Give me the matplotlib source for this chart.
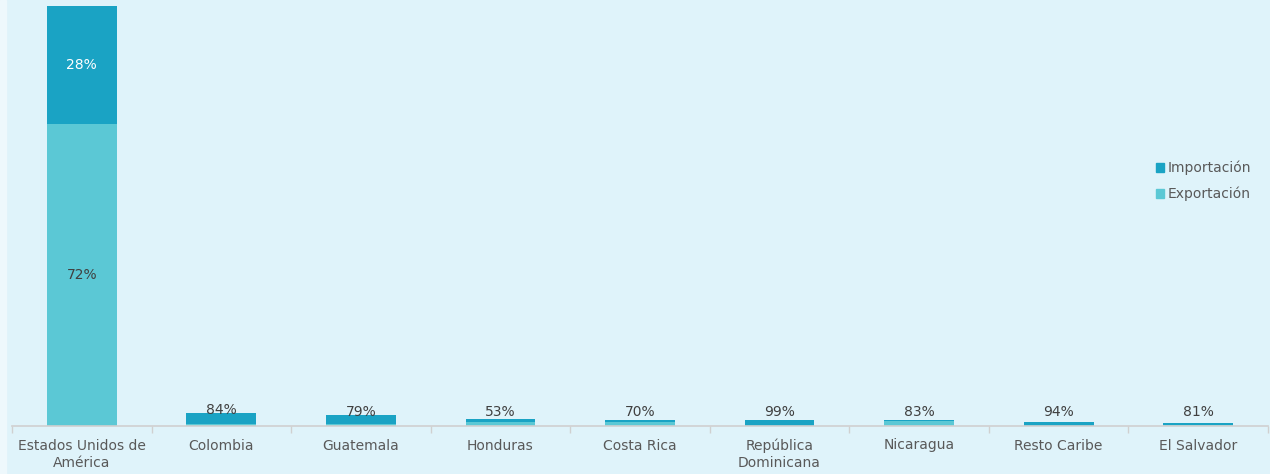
import matplotlib
matplotlib.use("Agg")
from matplotlib import pyplot as plt
from matplotlib.patches import Patch, Rectangle

plt.rcParams["font.family"] = ["DejaVu Sans"]

# data (relative size, USA total = 100)
countries = ["Estados Unidos de\nAmérica", "Colombia", "Guatemala", "Honduras",
             "Costa Rica", "República\nDominicana", "Nicaragua", "Resto Caribe",
             "El Salvador"]
exportacion = [72.0, 0.50, 0.55, 0.88, 1.00, 0.01, 1.19, 0.06, 0.12]
importacion = [28.0, 2.60, 2.05, 0.79, 0.43, 1.42, 0.24, 0.94, 0.53]
labels_small = ["", "84%", "79%", "53%", "70%", "99%", "83%", "94%", "81%"]

bg = "#DFF3FA"
c_exp = "#5BC8D5"
c_imp = "#1AA3C4"
txt = "#595959"

fig = plt.figure(figsize=(12.7, 4.74), dpi=100, facecolor=bg)
fig.patches.append(Rectangle((0, 0), 6 / 1270, 1, transform=fig.transFigure,
                             color="#EEF8FC", zorder=-1))
ax = fig.add_axes([12 / 1270, 48 / 474, 1256 / 1270, 420 / 474])
ax.set_facecolor(bg)

x = list(range(len(countries)))
ax.bar(x, exportacion, width=0.5, color=c_exp, label="Exportación")
ax.bar(x, importacion, width=0.5, bottom=exportacion, color=c_imp, label="Importación")

ax.set_xlim(-0.5, len(countries) - 0.5)
ax.set_ylim(0, 100)

# labels inside the big bar
ax.text(0, exportacion[0] / 2, "72%", ha="center", va="center", fontsize=10, color="#404040")
ax.text(0, exportacion[0] + importacion[0] / 2, "28%", ha="center", va="center",
        fontsize=10, color="white")
for i in range(1, len(countries)):
    top = exportacion[i] + importacion[i]
    ax.text(i, max(3.4, top + 0.7), labels_small[i], ha="center", va="center",
            fontsize=10, color="#404040")

for s in ["top", "right", "left"]:
    ax.spines[s].set_visible(False)
ax.spines["bottom"].set_color("#D0D0D0")
ax.spines["bottom"].set_linewidth(1.2)
ax.set_yticks([])
ax.set_xticks(x)
ax.set_xticklabels(countries, fontsize=10, color=txt, linespacing=1.3)
ax.tick_params(axis="x", which="major", length=0, pad=9)
ax.set_xticks([i - 0.5 for i in range(len(countries) + 1)], minor=True)
ax.tick_params(axis="x", which="minor", length=5, color="#D0D0D0", width=1)

handles = [Patch(color=c_imp, label="Importación"), Patch(color=c_exp, label="Exportación")]
leg = fig.legend(handles=handles, loc="center left", bbox_to_anchor=(1143 / 1270, 1 - 181 / 474),
                 frameon=False, fontsize=10, handlelength=0.6, handleheight=0.6,
                 handletextpad=0.3, labelspacing=0.8)
for t in leg.get_texts():
    t.set_color(txt)

fig.savefig("out.png", dpi=100, facecolor=bg)
